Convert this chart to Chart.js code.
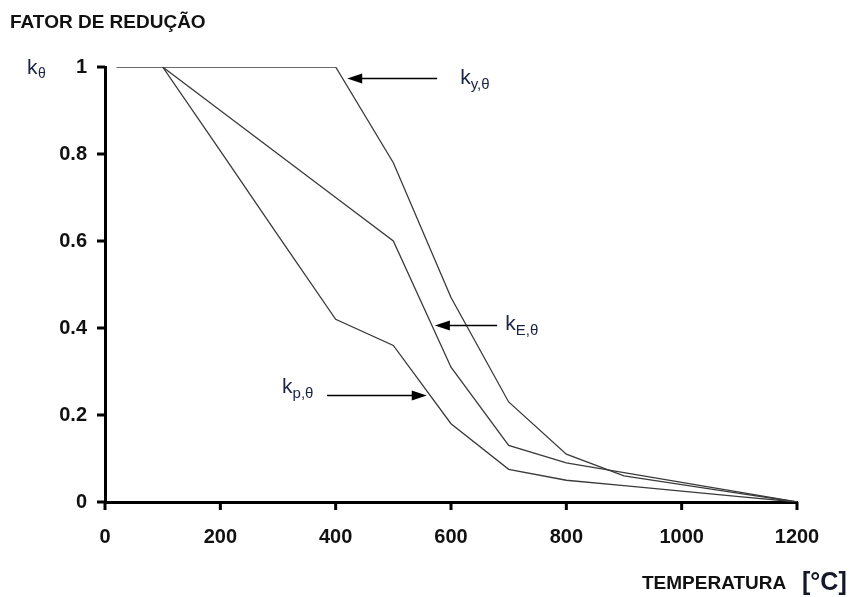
<!DOCTYPE html>
<html>
<head>
<meta charset="utf-8">
<script src="https://cdn.jsdelivr.net/npm/chart.js@4.4.1/dist/chart.umd.min.js"></script>
<style>
  html, body { margin: 0; padding: 0; background: #fff; }
  #wrap { position: relative; width: 853px; height: 597px; font-family: "Liberation Sans", Arial, sans-serif; }
  #chart { position: absolute; left: 0; top: 0; }
  .lbl { position: absolute; font-weight: bold; color: #111; white-space: nowrap; }
</style>
</head>
<body>
<div id="wrap">
  <canvas id="chart" width="853" height="597"></canvas>
  <div class="lbl" style="left:10px; top:11px; font-size:19px;">FATOR DE REDUÇÃO</div>
  <div class="lbl" style="left:642px; top:572px; font-size:19px;">TEMPERATURA</div>
  <div class="lbl" style="left:802px; top:567px; font-size:25px; color:#141828;">[°C]</div>
</div>
<script>
// Temperature points (°C)
const tempY = [20, 100, 200, 300, 400, 500, 600, 700, 800, 900, 1000, 1100, 1200];
const tempEP = [100, 200, 300, 400, 500, 600, 700, 800, 900, 1000, 1100, 1200];

// Reduction factors
const kY = [1, 1, 1, 1, 1, 0.78, 0.47, 0.23, 0.11, 0.06, 0.04, 0.02, 0];
const kE = [1, 0.9, 0.8, 0.7, 0.6, 0.31, 0.13, 0.09, 0.0675, 0.045, 0.0225, 0];
const kP = [1, 0.807, 0.613, 0.42, 0.36, 0.18, 0.075, 0.05, 0.0375, 0.025, 0.0125, 0];

const xTicks = [0, 200, 400, 600, 800, 1000, 1200];
const yTicks = [0, 0.2, 0.4, 0.6, 0.8, 1];

// annotation arrows (data coords)
const notes = [
    { main: 'k', sub: 'y,θ', x0: 576, x1: 420, y: 0.975, lx: 616, ly: 0.96 },
    { main: 'k', sub: 'E,θ', x0: 680, x1: 572, y: 0.407, lx: 694, ly: 0.395 },
    { main: 'k', sub: 'p,θ', x0: 385, x1: 558, y: 0.246, lx: 307, ly: 0.25 }
];

function toPts(xs, ys) {
    return xs.map((x, i) => ({ x: x, y: ys[i] }));
}

const inkCol = '#1c2444';

const notesPlugin = {
    id: 'notes',
    afterDraw(chart) {
        const ctx = chart.ctx;
        const xs = chart.scales.x, ys = chart.scales.y;
        const area = chart.chartArea;
        ctx.save();
        // tick marks
        ctx.strokeStyle = '#000';
        ctx.lineWidth = 3;
        ctx.beginPath();
        xs.ticks.forEach(t => {
            const px = xs.getPixelForValue(t.value);
            ctx.moveTo(px, area.bottom);
            ctx.lineTo(px, area.bottom + 8);
        });
        ys.ticks.forEach(t => {
            const py = ys.getPixelForValue(t.value);
            ctx.moveTo(area.left - 8, py);
            ctx.lineTo(area.left, py);
        });
        ctx.stroke();

        notes.forEach(n => {
            const px0 = xs.getPixelForValue(n.x0);
            const px1 = xs.getPixelForValue(n.x1);
            const py = Math.round(ys.getPixelForValue(n.y)) + 0.5;
            const dir = px1 > px0 ? 1 : -1;
            // shaft
            ctx.strokeStyle = '#000';
            ctx.lineWidth = 1.5;
            ctx.beginPath();
            ctx.moveTo(px0, py);
            ctx.lineTo(px1 - dir * 10, py);
            ctx.stroke();
            // head
            ctx.fillStyle = '#000';
            ctx.beginPath();
            ctx.moveTo(px1, py);
            ctx.lineTo(px1 - dir * 15, py - 5);
            ctx.lineTo(px1 - dir * 15, py + 5);
            ctx.closePath();
            ctx.fill();
            // label
            const lx = xs.getPixelForValue(n.lx);
            const ly = ys.getPixelForValue(n.ly);
            ctx.fillStyle = inkCol;
            ctx.textBaseline = 'alphabetic';
            ctx.textAlign = 'left';
            ctx.font = '21px "Liberation Sans", Arial, sans-serif';
            ctx.fillText(n.main, lx, ly);
            const w = ctx.measureText(n.main).width;
            ctx.font = '15px "Liberation Sans", Arial, sans-serif';
            ctx.fillText(n.sub, lx + w, ly + 5);
        });
        // k theta axis label
        const yk = ys.getPixelForValue(1);
        ctx.fillStyle = inkCol;
        ctx.font = '21px "Liberation Sans", Arial, sans-serif';
        ctx.fillText('k', 27, yk + 7);
        ctx.font = '14px "Liberation Sans", Arial, sans-serif';
        ctx.fillText('θ', 38, yk + 11);
        ctx.restore();
    }
};

const lineStyle = { borderColor: '#3a3a3a', borderWidth: 1.3, pointRadius: 0, fill: false, tension: 0 };
const tickFont = { family: '"Liberation Sans", Arial, sans-serif', size: 20, weight: 'bold' };

new Chart(document.getElementById('chart'), {
    type: 'line',
    data: {
        datasets: [
            Object.assign({ label: 'ky', data: toPts(tempY, kY) }, lineStyle),
            Object.assign({ label: 'kE', data: toPts(tempEP, kE) }, lineStyle),
            Object.assign({ label: 'kp', data: toPts(tempEP, kP) }, lineStyle)
        ]
    },
    options: {
        responsive: false,
        animation: false,
        layout: { padding: { top: 67, right: 56, bottom: 0, left: 0 } },
        plugins: { legend: { display: false }, tooltip: { enabled: false } },
        scales: {
            x: {
                type: 'linear',
                min: 0,
                max: 1200,
                afterBuildTicks: s => { s.ticks = xTicks.map(v => ({ value: v })); },
                afterFit: s => { s.height = 95; },
                border: { display: true, color: '#000', width: 3 },
                grid: { display: false, drawTicks: true, tickLength: 8 },
                ticks: { color: '#111', padding: 15, maxRotation: 0, font: tickFont, callback: v => String(v) }
            },
            y: {
                min: 0,
                max: 1,
                afterBuildTicks: s => { s.ticks = yTicks.map(v => ({ value: v })); },
                afterFit: s => { s.width = 105; },
                border: { display: true, color: '#000', width: 3 },
                grid: { display: false, drawTicks: true, tickLength: 8 },
                ticks: { color: '#111', padding: 10, font: tickFont, callback: v => String(v) }
            }
        }
    },
    plugins: [notesPlugin]
});
</script>
</body>
</html>
